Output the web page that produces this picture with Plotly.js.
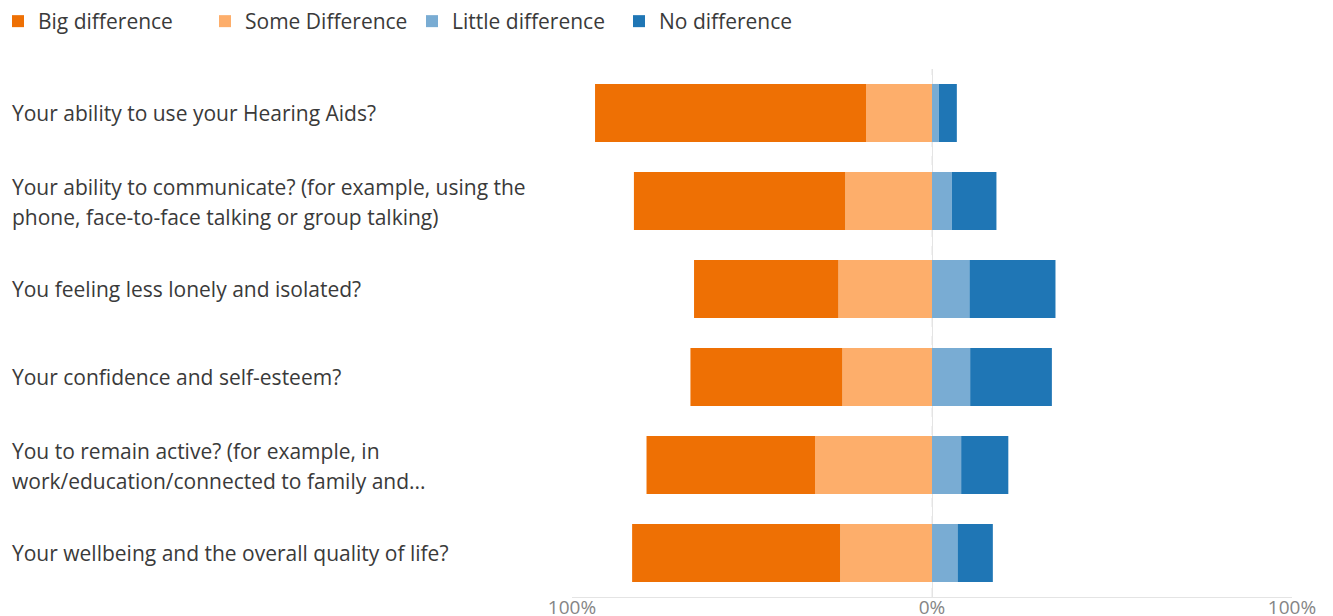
<!DOCTYPE html>
<html>
<head>
<meta charset="utf-8">
<script src="https://cdn.plot.ly/plotly-3.0.1.min.js"></script>
<style>html,body{margin:0;padding:0;background:#fff;}#chart{width:1333px;height:616px;}</style>
</head>
<body>
<div id="chart"></div>
<script>
// ---- data ----
const categories = [
  "Your ability to use your Hearing Aids?",
  "Your ability to communicate? (for example, using the<br>phone, face-to-face talking or group talking)",
  "You feeling less lonely and isolated?",
  "Your confidence and self-esteem?",
  "You to remain active? (for example, in<br>work/education/connected to family and...",
  "Your wellbeing and the overall quality of life?"
];
const seriesNames = ["Big difference", "Some Difference", "Little difference", "No difference"];
const bigDifference    = [75.3, 58.7, 40.1, 42.2, 46.8, 57.8];
const someDifference   = [18.3, 24.1, 26.0, 24.9, 32.5, 25.5];
const littleDifference = [1.9, 5.5, 10.4, 10.6, 8.1, 7.1];
const noDifference     = [5.0, 12.4, 23.9, 22.7, 13.1, 9.8];
const tickValues = [-100, 0, 100];
const tickLabels = ["100%", "0%", "100%"];

const colors = {big: "#EE7004", some: "#FDAE6B", little: "#79ACD3", no: "#1F76B5"};
const FONT = "'Open Sans', 'Noto Sans', sans-serif";
const TEXT = "#3a3a3a";

function bar(name, vals, color, rank, sign) {
  return {
    type: "bar", orientation: "h", name: name,
    y: categories, x: vals.map(v => sign * v),
    marker: {color: color, line: {width: 0}},
    legendrank: rank, hoverinfo: "name+x"
  };
}

const data = [
  bar(seriesNames[1], someDifference, colors.some, 2, -1),
  bar(seriesNames[0], bigDifference, colors.big, 1, -1),
  bar(seriesNames[2], littleDifference, colors.little, 3, 1),
  bar(seriesNames[3], noDifference, colors.no, 4, 1)
];

const PLOT_L = 572, PLOT_W = 720, PLOT_T = 69, PLOT_H = 528;
const LINE_GAP = 30;

// category labels, left-aligned, one annotation per text line
const annotations = [];
categories.forEach(c => {
  const lines = c.split("<br>");
  const n = lines.length;
  lines.forEach((ln, i) => {
    annotations.push({
      xref: "paper", yref: "y", x: (10 - PLOT_L) / PLOT_W, y: c,
      yshift: ((n - 1) / 2 - i) * LINE_GAP + (n > 1 ? -1 : 0),
      text: ln, showarrow: false, xanchor: "left", yanchor: "middle", align: "left",
      font: {family: FONT, size: 21, color: TEXT}
    });
  });
});

const layout = {
  width: 1333, height: 616,
  margin: {l: PLOT_L, r: 1333 - PLOT_L - PLOT_W, t: PLOT_T, b: 616 - PLOT_T - PLOT_H, pad: 0, autoexpand: false},
  paper_bgcolor: "#fff", plot_bgcolor: "#fff",
  barmode: "relative", bargap: 0.34,
  font: {family: FONT, size: 21, color: TEXT},
  showlegend: true,
  legend: {
    orientation: "h", xref: "paper", yref: "paper",
    x: (-2 - PLOT_L) / PLOT_W, y: 1 + (PLOT_T - 1) / PLOT_H, xanchor: "left", yanchor: "top",
    entrywidth: 162, entrywidthmode: "pixels",
    font: {family: FONT, size: 21, color: TEXT},
    traceorder: "normal", bgcolor: "rgba(0,0,0,0)"
  },
  xaxis: {
    range: [-100, 100], tickvals: tickValues, ticktext: tickLabels,
    showgrid: true, gridcolor: "#e4e4e4", gridwidth: 1,
    zeroline: false, showline: true, linecolor: "#e4e4e4", linewidth: 1,
    ticks: "", ticklabelstandoff: -7,
    tickfont: {family: FONT, size: 19, color: "#858585"},
    fixedrange: true
  },
  yaxis: {
    autorange: "reversed", showticklabels: false, showgrid: false,
    zeroline: false, showline: false, ticks: "", fixedrange: true
  },
  shapes: [{
    type: "line", xref: "x", yref: "paper", x0: 0, x1: 0, y0: 0, y1: 1,
    line: {color: "#e4e4e4", width: 1, dash: "dash"}, layer: "below"
  }],
  annotations: annotations
};

Plotly.newPlot("chart", data, layout, {displayModeBar: false, staticPlot: true});
</script>
</body>
</html>
